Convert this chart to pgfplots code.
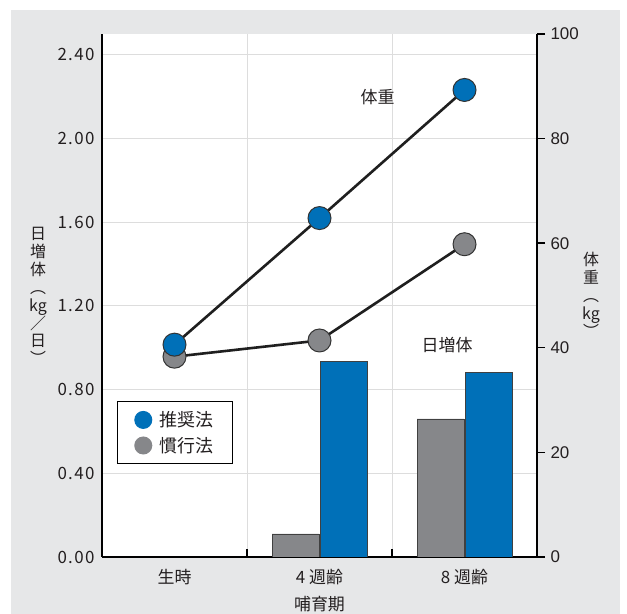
\documentclass[border=0pt]{standalone}
\usepackage{fontspec}
\setmainfont{Noto Sans CJK JP}
\newfontfamily\latinsans{Liberation Sans}
\newfontfamily\leftnumfont[LetterSpace=8]{Noto Sans CJK JP}
\usepackage{pgfplots}
\pgfplotsset{compat=1.18}
\definecolor{bgc}{HTML}{E6E7E8}
\definecolor{myblue}{HTML}{0070B8}
\definecolor{mygray}{HTML}{86878A}
\definecolor{gridc}{HTML}{DDDDDD}
\definecolor{txt}{HTML}{231F20}
\begin{document}
\begin{tikzpicture}[x=1bp,y=1bp]
\useasboundingbox (0,0) rectangle (627,614);
\fill[bgc] (11,0) rectangle (620,604);
\begin{axis}[
  at={(102bp,57bp)}, anchor=south west, scale only axis,
  width=435bp, height=523bp,
  xmin=-0.5, xmax=2.5, ymin=0, ymax=2.5,
  axis x line*=bottom, axis y line*=left,
  axis background/.style={fill=white},
  axis line style={black, line width=1.4bp},
  xtick={0,1,2}, xticklabels={生時,4 週齢,8 週齢},
  minor xtick={0.5,1.5}, xminorgrids,
  ytick={0,0.4,0.8,1.2,1.6,2.0,2.4}, ymajorgrids,
  grid style={gridc, line width=1bp},
  major tick length=0pt, minor tick length=8bp, tick align=inside,
  minor tick style={black, line width=1.4bp},
  /pgf/number format/assume math mode=true,
  yticklabel style={/pgf/number format/fixed, /pgf/number format/fixed zerofill, /pgf/number format/precision=2,
    font=\leftnumfont\fontsize{17}{17}\selectfont, text=txt, xshift=-4bp},
  xticklabel style={font=\fontsize{17}{17}\selectfont, text=txt, yshift=-9bp},
  xlabel={哺育期},
  xlabel style={font=\fontsize{17}{17}\selectfont, text=txt, yshift=-4bp},
]
\addplot[ybar, bar width=47bp, bar shift=-24bp, fill=mygray, draw=black!75, line width=0.8bp]
  coordinates {(1,0.11) (2,0.66)};
\addplot[ybar, bar width=47bp, bar shift=24bp, fill=myblue, draw=black!75, line width=0.8bp]
  coordinates {(1,0.934) (2,0.88)};
\end{axis}
\begin{axis}[
  at={(102bp,57bp)}, anchor=south west, scale only axis,
  width=435bp, height=523bp,
  xmin=-0.5, xmax=2.5, ymin=0, ymax=100,
  axis x line=none, axis y line*=right,
  axis line style={black, line width=1.4bp},
  ytick={0,20,40,60,80,100},
  major tick length=8bp, tick align=outside,
  tick style={black, line width=1.4bp},
  /pgf/number format/assume math mode=true,
  yticklabel style={font=\latinsans\fontsize{17}{17}\selectfont, text=txt, xshift=2bp},
  legend style={at={(rel axis cs:0.034,0.298)}, anchor=north west, draw=black, line width=1bp,
    font=\fontsize{18}{18}\selectfont, text=txt, inner xsep=17bp, inner ysep=8bp, row sep=5bp,
    column sep=5bp},
  legend cell align=left,
]
\addlegendimage{legend image code/.code={\fill[myblue] (8.5bp,0bp) circle (8.5bp);}}
\addlegendentry{推奨法}
\addlegendimage{legend image code/.code={\fill[mygray] (8.5bp,0bp) circle (8.5bp);}}
\addlegendentry{慣行法}
\addplot[forget plot, line width=2.6bp, color=black!88, mark=*, mark size=11.5bp,
  mark options={fill=mygray, draw=black!80, line width=1bp}]
  coordinates {(0,38.3) (1,41.4) (2,59.8)};
\addplot[forget plot, line width=2.6bp, color=black!88, mark=*, mark size=11.5bp,
  mark options={fill=myblue, draw=black!80, line width=1bp}]
  coordinates {(0,40.6) (1,64.8) (2,89.3)};
\node[font=\fontsize{17}{17}\selectfont, text=txt] at (axis cs:1.40,88) {体重};
\node[font=\fontsize{17}{17}\selectfont, text=txt] at (axis cs:1.88,40.5) {日増体};
\end{axis}
\node[font=\fontsize{16}{18}\selectfont, text=txt, align=center, inner sep=0pt] at (38,318)
  {日\\増\\体\\︵\\kg\\／\\日\\︶};
\node[font=\fontsize{16}{18}\selectfont, text=txt, align=center, inner sep=0pt] at (591,319)
  {体\\重\\︵\\kg\\︶};
\end{tikzpicture}
\end{document}
